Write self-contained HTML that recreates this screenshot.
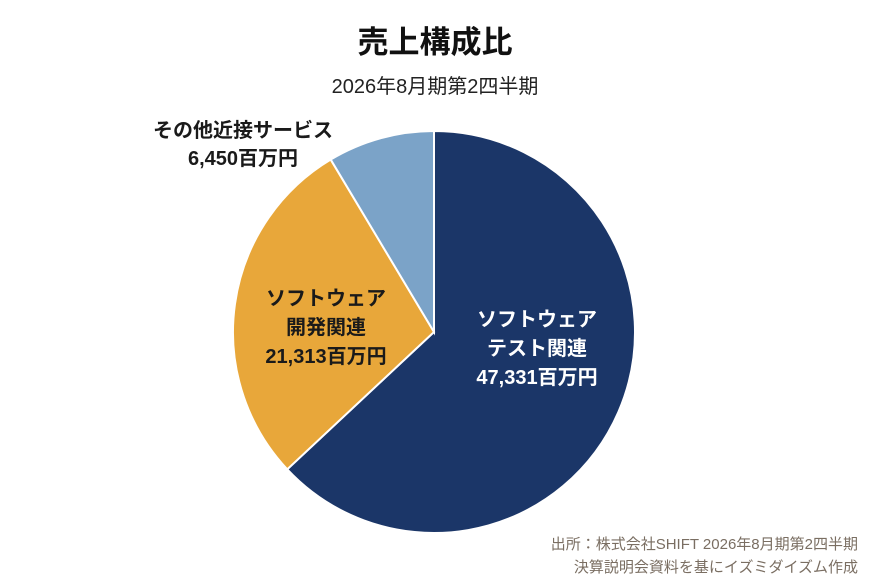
<!DOCTYPE html>
<html><head><meta charset="utf-8">
<style>
body{margin:0;background:#fff;}
svg{display:block;font-family:"Liberation Sans","Noto Sans CJK JP",sans-serif;}
</style></head>
<body>
<svg width="870" height="583" viewBox="0 0 870 583">
<rect width="870" height="583" fill="#fff"/>
<text x="435" y="53" text-anchor="middle" font-size="31" font-weight="bold" fill="#111">売上構成比</text>
<text x="435" y="93" text-anchor="middle" font-size="20" fill="#222">2026年8月期第2四半期</text>
<g id="slices"></g>
<g id="labels"></g>
<text x="858" y="549" text-anchor="end" font-size="15" fill="#7a6e62">出所：株式会社SHIFT 2026年8月期第2四半期</text>
<text x="858" y="572" text-anchor="end" font-size="15" fill="#7a6e62">決算説明会資料を基にイズミダイズム作成</text>
</svg>
<script>
const categories=["ソフトウェアテスト関連","ソフトウェア開発関連","その他近接サービス"];
const values=[47331,21313,6450];
const valueLabels=["47,331百万円","21,313百万円","6,450百万円"];
const colors=["#1b3668","#e8a73a","#7ba3c8"];
const cx=434,cy=332,r=201;
const total=values.reduce((a,b)=>a+b,0);
const ns="http://www.w3.org/2000/svg";
const g=document.getElementById('slices');
let a0=0;
const pt=a=>[cx+r*Math.sin(a),cy-r*Math.cos(a)];
values.forEach((v,i)=>{
  const a1=a0+v/total*2*Math.PI;
  const [x0,y0]=pt(a0),[x1,y1]=pt(a1);
  const p=document.createElementNS(ns,'path');
  p.setAttribute('d',`M${cx},${cy}L${x0},${y0}A${r},${r} 0 ${a1-a0>Math.PI?1:0} 1 ${x1},${y1}Z`);
  p.setAttribute('fill',colors[i]);p.setAttribute('stroke','#fff');p.setAttribute('stroke-width','2');
  
  
  g.appendChild(p);
  a0=a1;
});
const lg=document.getElementById('labels');
function txt(x,y,s,fill,anchor,name){
  const t=document.createElementNS(ns,'text');
  t.setAttribute('x',x);t.setAttribute('y',y);t.setAttribute('fill',fill);
  t.setAttribute('text-anchor',anchor);t.setAttribute('font-size','20');t.setAttribute('font-weight','bold');
  t.textContent=s;
  
  
  lg.appendChild(t);
}
txt(537,326,"ソフトウェア","#fff","middle","label-test-1");
txt(537,355,"テスト関連","#fff","middle","label-test-2");
txt(537,384,valueLabels[0],"#fff","middle","label-test-value");
txt(326,305,"ソフトウェア","#1a1a1a","middle","label-dev-1");
txt(326,334,"開発関連","#1a1a1a","middle","label-dev-2");
txt(326,363,valueLabels[1],"#1a1a1a","middle","label-dev-value");
txt(243,137,"その他近接サービス","#1a1a1a","middle","label-other-1");
txt(243,165,valueLabels[2],"#1a1a1a","middle","label-other-value");
</script>
</body></html>
